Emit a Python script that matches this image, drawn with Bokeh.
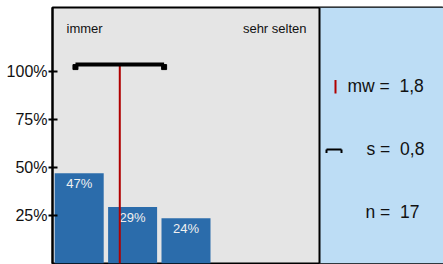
from bokeh.plotting import figure
from bokeh.models import FixedTicker, BoxAnnotation, Span
from bokeh.core.properties import value
from bokeh.embed import file_html
from bokeh.resources import INLINE

# ---- data ----
categories = [1, 2, 3, 4, 5]
counts = [8, 5, 4, 0, 0]
n_total = 17
percent = [47.06, 29.41, 23.53, 0, 0]
bar_labels = ["47%", "29%", "24%", "", ""]
mean_value = 1.76
sd_value = 0.83
pole_left = "immer"
pole_right = "sehr selten"
stat_labels = ["mw =\u00a0 1,8", "s =\u00a0 0,8", "n =\u00a0 17"]
y_ticks = [25, 50, 75, 100]
y_tick_labels = ["25%", "50%", "75%", "100%"]

# ---- layout ----
W, H = 443, 264
BL, BT, BB = 52, 7, 1
frame_w = W - BL
frame_h = H - BT - BB
BOTTOM = H - BB          # screen y of 0%
PX_X = 53.4          # px per category
PX_Y = 1.92          # px per percent
x0 = 0.5
x1 = x0 + frame_w / PX_X
y1 = frame_h / PX_Y
panel_left = 5.5
SD_Y = 103.6


def sy(px):
    """screen y (px from top) -> data y"""
    return (BOTTOM - px) / PX_Y


FONT = "Liberation Sans"
GRAY = "#E5E5E5"
BLUE = "#2B6CAB"
PANEL = "#BDDDF5"
RED = "#B00000"

p = figure(width=W, height=H, output_backend="svg", toolbar_location=None,
           x_range=(x0, x1), y_range=(0, y1), x_axis_location=None,
           min_border_left=BL, min_border_right=0, min_border_top=BT,
           min_border_bottom=BB)
p.background_fill_color = GRAY
p.border_fill_color = "white"
p.outline_line_color = "black"
p.outline_line_width = 2
p.xgrid.visible = False
p.ygrid.visible = False

ax = p.yaxis[0]
ax.ticker = FixedTicker(ticks=y_ticks)
ax.major_label_overrides = {t: l for t, l in zip(y_ticks, y_tick_labels)}
ax.major_label_text_font = FONT
ax.major_label_text_font_size = "16px"
ax.major_label_text_color = "#111111"
ax.axis_line_width = 2
ax.axis_line_color = "black"
ax.major_tick_line_width = 2
ax.major_tick_in = 5
ax.major_tick_out = 4
ax.minor_tick_line_color = None
ax.major_label_standoff = 1

# right info panel
p.add_layout(BoxAnnotation(left=panel_left, fill_color=PANEL, fill_alpha=1,
                           line_color=None, level="underlay"))
p.add_layout(Span(location=panel_left, dimension="height", line_color="black",
                  line_width=2))

# bars
p.vbar(x=categories[:3], top=percent[:3], width=49 / PX_X, color=BLUE,
       line_color=None)
p.text(x=categories[:3], y=percent[:3], text=bar_labels[:3],
       text_font=value(FONT), text_font_size="13px", text_color="#F0F0F0",
       text_align="center", text_baseline="top", y_offset=3)

# mean line and sd bar
p.segment(x0=[mean_value], y0=[0], x1=[mean_value], y1=[SD_Y],
          line_color=RED, line_width=2)
lo, hi = mean_value - sd_value, mean_value + sd_value
p.segment(x0=[lo], y0=[SD_Y], x1=[hi], y1=[SD_Y], line_color="black",
          line_width=4)
p.scatter(x=[lo, hi], y=[SD_Y - 1.3, SD_Y - 1.3], marker="square", size=5,
          color="black")

# pole labels
p.text(x=[x0], y=[sy(28)], text=[pole_left], x_offset=14,
       text_font=value(FONT), text_font_size="13px", text_color="#111111",
       text_align="left", text_baseline="middle")
p.text(x=[panel_left], y=[sy(28)], text=[pole_right],
       x_offset=-13, text_font=value(FONT), text_font_size="13px",
       text_color="#111111", text_align="right", text_baseline="middle")

# stats text
stat_y = [sy(85), sy(148), sy(211)]
stat_dx = [28, 47, 46]
for lab, yy, dx in zip(stat_labels, stat_y, stat_dx):
    p.text(x=[panel_left], y=[yy], text=[lab], x_offset=dx,
           text_font=value(FONT), text_font_size="17.5px",
           text_color="#111111", text_align="left", text_baseline="middle")

# legend symbols
mx = panel_left + 16 / PX_X
p.segment(x0=[mx], y0=[sy(93)], x1=[mx], y1=[sy(79.5)],
          line_color=RED, line_width=2)
bx0 = panel_left + 7 / PX_X
bx1 = panel_left + 22 / PX_X
by = sy(149)
p.segment(x0=[bx0], y0=[by], x1=[bx1], y1=[by], line_color="black",
          line_width=2)
p.segment(x0=[bx0, bx1], y0=[by, by], x1=[bx0, bx1], y1=[by - 3.5 / PX_Y] * 2,
          line_color="black", line_width=2)

open("out.html", "w").write(file_html(p, INLINE))
